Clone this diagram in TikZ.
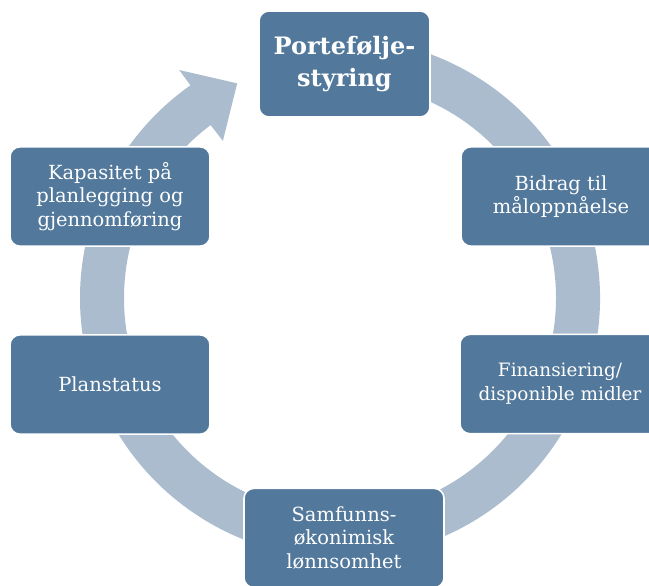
\documentclass[tikz,border=0pt]{standalone}
\usepackage{fontspec}
\setmainfont{DejaVu Serif}
\definecolor{boxblue}{HTML}{52789B}
\definecolor{ringblue}{HTML}{AABCCD}
\begin{document}
\begin{tikzpicture}[x=0.75pt,y=-0.75pt,
  stage/.style={draw=white, line width=1.2pt, fill=boxblue, rounded corners=7.5pt,
    text=white, align=center, inner sep=0pt,
    font=\fontsize{14.6}{17.8}\selectfont,
    minimum width=150pt, minimum height=74.5pt},
  hub/.style={stage, minimum width=128.25pt, minimum height=79.5pt,
    font=\fontsize{18}{24}\selectfont\bfseries}]
\useasboundingbox (0,0) rectangle (649,585);
\clip (0,0) rectangle (649,585);

% cycle band with its arrowhead, drawn around the centre of the layout
\begin{scope}[shift={(340,298)}, yscale=-1]
  \fill[ringblue]
    (100:260) arc[start angle=100, end angle=-234.9, radius=260]
    -- (125.2:279) -- (115.6:238) -- (126.7:196)
    -- (126.8:216) arc[start angle=-233.2, end angle=100, radius=216]
    -- cycle;
\end{scope}

\node[hub]   (port) at (344.5,64)  {Portefølje-\\styring};
\node[stage] (bidr) at (561,196.5) {Bidrag til\\måloppnåelse};
\node[stage, font=\fontsize{13.8}{17.8}\selectfont] (fina) at (560,384) {Finansiering/\\disponible midler};
\node[stage] (samf) at (344,538)   {Samfunns-\\økonimisk\\lønnsomhet};
\node[stage] (plan) at (110,384.5) {Planstatus};
\node[stage] (kapa) at (110,196.5) {Kapasitet på\\planlegging og\\gjennomføring};
\end{tikzpicture}
\end{document}
